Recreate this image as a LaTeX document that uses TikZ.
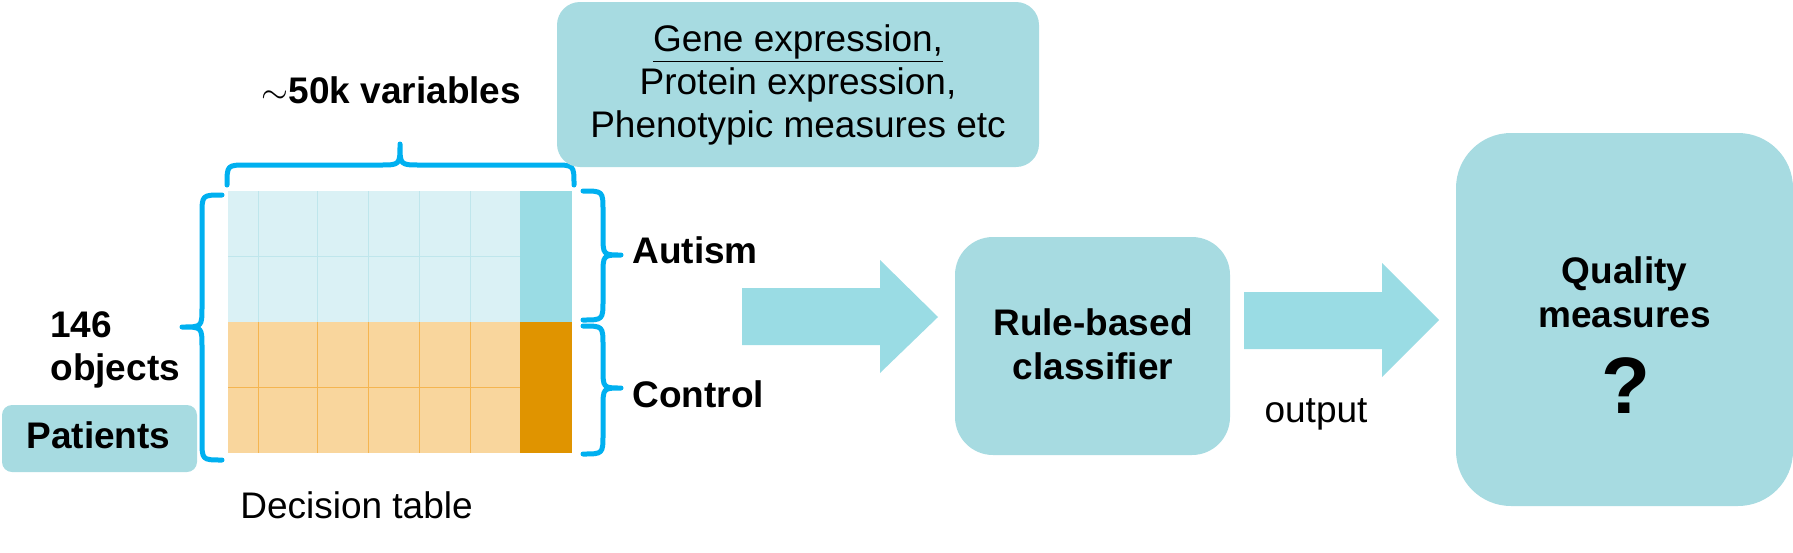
\documentclass[tikz,border=0pt]{standalone}
\usepackage{fontspec}
\setmainfont{Liberation Sans}
\definecolor{boxfill}{HTML}{A7DBE1}
\definecolor{arrowfill}{HTML}{9ADCE4}
\definecolor{lightblue}{HTML}{DAF1F5}
\definecolor{gridblue}{HTML}{BFE6EC}
\definecolor{lightorange}{HTML}{F9D69D}
\definecolor{gridorange}{HTML}{F5B550}
\definecolor{darkorange}{HTML}{E09400}
\definecolor{bracecol}{HTML}{00B0F0}
\begin{document}
\begin{tikzpicture}[x=0.5pt,y=-0.5pt,
  txt/.style={font=\fontsize{18.5pt}{21.5pt}\selectfont, inner sep=0pt},
  btxt/.style={font=\fontsize{18.5pt}{21.5pt}\selectfont\bfseries, inner sep=0pt},
  tealbox/.style={fill=boxfill, draw=none},
  bigarrow/.style={fill=arrowfill, draw=none},
  bracepath/.style={draw=bracecol, line width=2.5pt, line cap=round, line join=round},
  gridline/.style={line width=0.4pt}
]
\useasboundingbox (0,0) rectangle (1793,552);

% ---- decision table ----
\fill[lightblue] (228,191) rectangle (520,322);
\fill[arrowfill] (520,191) rectangle (572,322);
\fill[lightorange] (228,322) rectangle (520,453);
\fill[darkorange] (520,322) rectangle (572,453);
\foreach \x in {258,317,368,419,470} {
  \draw[gridline, gridblue] (\x,191) -- (\x,322);
  \draw[gridline, gridorange] (\x,322) -- (\x,453);
}
\draw[gridline, gridblue] (228,256) -- (520,256);
\draw[gridline, gridorange] (228,387) -- (520,387);
\coordinate (table) at (400,322);

% ---- braces ----
\draw[bracepath] (227,185) .. controls (227,165) .. (247,165) -- (380,165)
  .. controls (400,165) .. (400,144) .. controls (400,165) .. (420,165) -- (554,165)
  .. controls (574,165) .. (574,185);
\draw[bracepath] (222,195) .. controls (202,195) .. (202,215) -- (202,307)
  .. controls (202,327) .. (182,327) .. controls (202,327) .. (202,347) -- (202,440)
  .. controls (202,460) .. (222,460);
\draw[bracepath] (583,191) .. controls (603,191) .. (603,211) -- (603,235)
  .. controls (603,255) .. (621,255) .. controls (603,255) .. (603,275) -- (603,300)
  .. controls (603,320) .. (583,320);
\draw[bracepath] (583,326) .. controls (603,326) .. (603,346) -- (603,368)
  .. controls (603,388) .. (621,388) .. controls (603,388) .. (603,408) -- (603,434)
  .. controls (603,454) .. (583,454);

% ---- labels around table ----
\node[btxt, anchor=base] (vars) at (391.5,103) {$\sim$50k variables};
\node[btxt, anchor=base west] (n146) at (50,337) {146};
\node[btxt, anchor=base west] (nobj) at (50,380) {objects};
\node[btxt, anchor=base west] (autism) at (632,263) {Autism};
\node[btxt, anchor=base west] (control) at (632,407) {Control};
\node[txt, anchor=base] (dtable) at (356.5,518) {Decision table};

% ---- boxes ----
\node[tealbox, rounded corners=11.5pt, minimum width=241pt, minimum height=82.5pt,
      txt, align=center] (data) at (798,84.5)
  {\underline{Gene expression,}\\Protein expression,\\Phenotypic measures etc};
\node[tealbox, rounded corners=5pt, minimum width=97.5pt, minimum height=33.5pt] (patbox) at (99.5,438.5) {};
\node[btxt, anchor=base] (patients) at (98.5,448) {Patients};

\node[tealbox, rounded corners=19pt, minimum width=137.5pt, minimum height=109pt] (clf) at (1092.5,346) {};
\node[btxt, anchor=base] (clf1) at (1093,335) {Rule-based};
\node[btxt, anchor=base] (clf2) at (1093,379) {classifier};

\node[tealbox, rounded corners=27.5pt, minimum width=168.5pt, minimum height=186.5pt] (qm) at (1624.5,319.5) {};
\node[btxt, anchor=base] (qm1) at (1624.5,283) {Quality};
\node[btxt, anchor=base] (qm2) at (1624.5,327) {measures};
\node[font=\fontsize{40pt}{44pt}\selectfont\bfseries, inner sep=0pt, anchor=base] (qmark) at (1626,413) {?};

\node[txt, anchor=base] (output) at (1316,422) {output};

% ---- block arrows ----
\fill[bigarrow] (742,288) -- (880,288) -- (880,260) -- (938,317) -- (880,373) -- (880,345) -- (742,345) -- cycle;
\fill[bigarrow] (1244,292) -- (1382,292) -- (1382,263) -- (1439,320) -- (1382,377) -- (1382,349) -- (1244,349) -- cycle;
\end{tikzpicture}
\end{document}
